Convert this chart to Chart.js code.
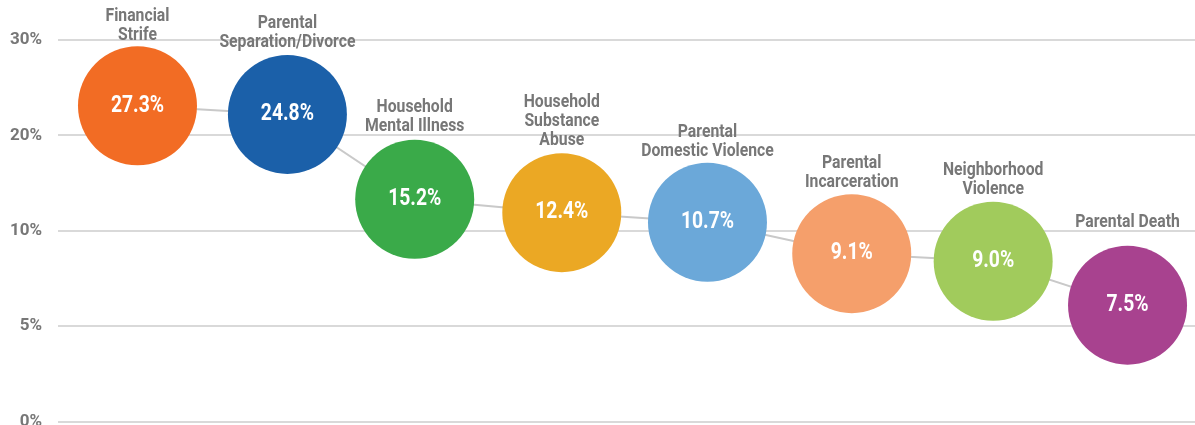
<!DOCTYPE html>
<html>
<head>
<meta charset="utf-8">
<script src="https://cdn.jsdelivr.net/npm/chart.js@4/dist/chart.umd.min.js"></script>
<style>
html,body{margin:0;padding:0;background:#fff;}
#wrap{width:1195px;height:425px;position:relative;}
</style>
</head>
<body>
<div id="wrap"><canvas id="c"></canvas></div>
<script>
// ---- data ----
const categories = [
  ["Financial", "Strife"],
  ["Parental", "Separation/Divorce"],
  ["Household", "Mental Illness"],
  ["Household", "Substance", "Abuse"],
  ["Parental", "Domestic Violence"],
  ["Parental", "Incarceration"],
  ["Neighborhood", "Violence"],
  ["Parental Death"]
];
const values = [27.3, 24.8, 15.2, 12.4, 10.7, 9.1, 9.0, 7.5];           // printed values
const plotLevel = [23.1, 22.2, 13.3, 11.9, 10.9, 8.8, 8.4, 6.1];        // where each bubble sits
const xSlot = [0, 1.06, 1.96, 3.0, 4.03, 5.05, 6.05, 7.0];              // horizontal slot of each bubble
const tickValues = [0, 5, 10, 20, 30];
const tickLabels = ["0%", "5%", "10%", "20%", "30%"];
const colors = ["#F26C24", "#1B60A9", "#3AAA49", "#EBA824", "#6BA8D9", "#F59F6B", "#A1CB5C", "#A8428F"];
const labelGap = [6, 8, 9, 8, 7, 7, 8, 19];

// piecewise axis: equal spacing between the tick values
function toAxis(v) {
  for (let i = 0; i < tickValues.length - 1; i++) {
    const a = tickValues[i], b = tickValues[i + 1];
    if (v <= b || i === tickValues.length - 2) return i + (v - a) / (b - a);
  }
}

const FONT = "Roboto, 'Liberation Sans', sans-serif";
const RADIUS = 59.5;

function drawSqueezed(ctx, text, x, y, sx) {
  ctx.save();
  ctx.translate(x, y);
  ctx.scale(sx, 1);
  ctx.fillText(text, 0, 0);
  ctx.restore();
}

const labelPlugin = {
  id: 'bubbleLabels',
  afterDatasetsDraw(chart) {
    const ctx = chart.ctx;
    const meta = chart.getDatasetMeta(0);
    ctx.save();
    meta.data.forEach((pt, i) => {
      ctx.textAlign = 'center';
      // value inside
      ctx.fillStyle = '#ffffff';
      ctx.font = 'bold 23px ' + FONT;
      ctx.textBaseline = 'middle';
      drawSqueezed(ctx, values[i].toFixed(1) + '%', pt.x, pt.y, 0.84);
      // category above
      ctx.fillStyle = '#777777';
      ctx.font = 'bold 17.5px ' + FONT;
      ctx.textBaseline = 'alphabetic';
      const lines = categories[i];
      const baseBottom = pt.y - RADIUS - labelGap[i];
      for (let k = 0; k < lines.length; k++) {
        const y = baseBottom - (lines.length - 1 - k) * 19;
        drawSqueezed(ctx, lines[k], pt.x, y, 0.9);
      }
    });
    ctx.restore();
  }
};

new Chart(document.getElementById('c'), {
  type: 'scatter',
  data: {
    datasets: [{
      data: xSlot.map((x, i) => ({ x: x, y: toAxis(plotLevel[i]) })),
      showLine: true,
      borderColor: '#c9c9c9',
      borderWidth: 2,
      pointRadius: RADIUS,
      pointHoverRadius: RADIUS,
      pointBackgroundColor: colors,
      pointBorderWidth: 0,
      pointBorderColor: colors,
      clip: false
    }]
  },
  options: {
    responsive: true,
    maintainAspectRatio: false,
    animation: false,
    events: [],
    layout: { autoPadding: false, padding: { top: 40, bottom: 3.5, left: 0, right: 0 } },
    plugins: { legend: { display: false }, tooltip: { enabled: false } },
    scales: {
      x: {
        type: 'linear', min: -0.562, max: 7.477,
        grid: { display: false, drawTicks: false },
        border: { display: false },
        ticks: { display: false },
        afterFit(scale) { scale.height = 0; scale.paddingLeft = 0; scale.paddingRight = 0; }
      },
      y: {
        type: 'linear', min: 0, max: tickValues.length - 1,
        afterFit(scale) { scale.width = 58; scale.paddingTop = 0; scale.paddingBottom = 0; },
        afterBuildTicks(scale) { scale.ticks = tickValues.map((v, i) => ({ value: i })); },
        grid: { color: '#d9d9d9', lineWidth: 2, drawTicks: false },
        border: { display: false },
        ticks: {
          padding: 16,
          color: '#777777',
          font: { family: FONT, size: 17, weight: 'bold' },
          callback: (v) => tickLabels[v]
        }
      }
    }
  },
  plugins: [labelPlugin]
});
</script>
</body>
</html>
